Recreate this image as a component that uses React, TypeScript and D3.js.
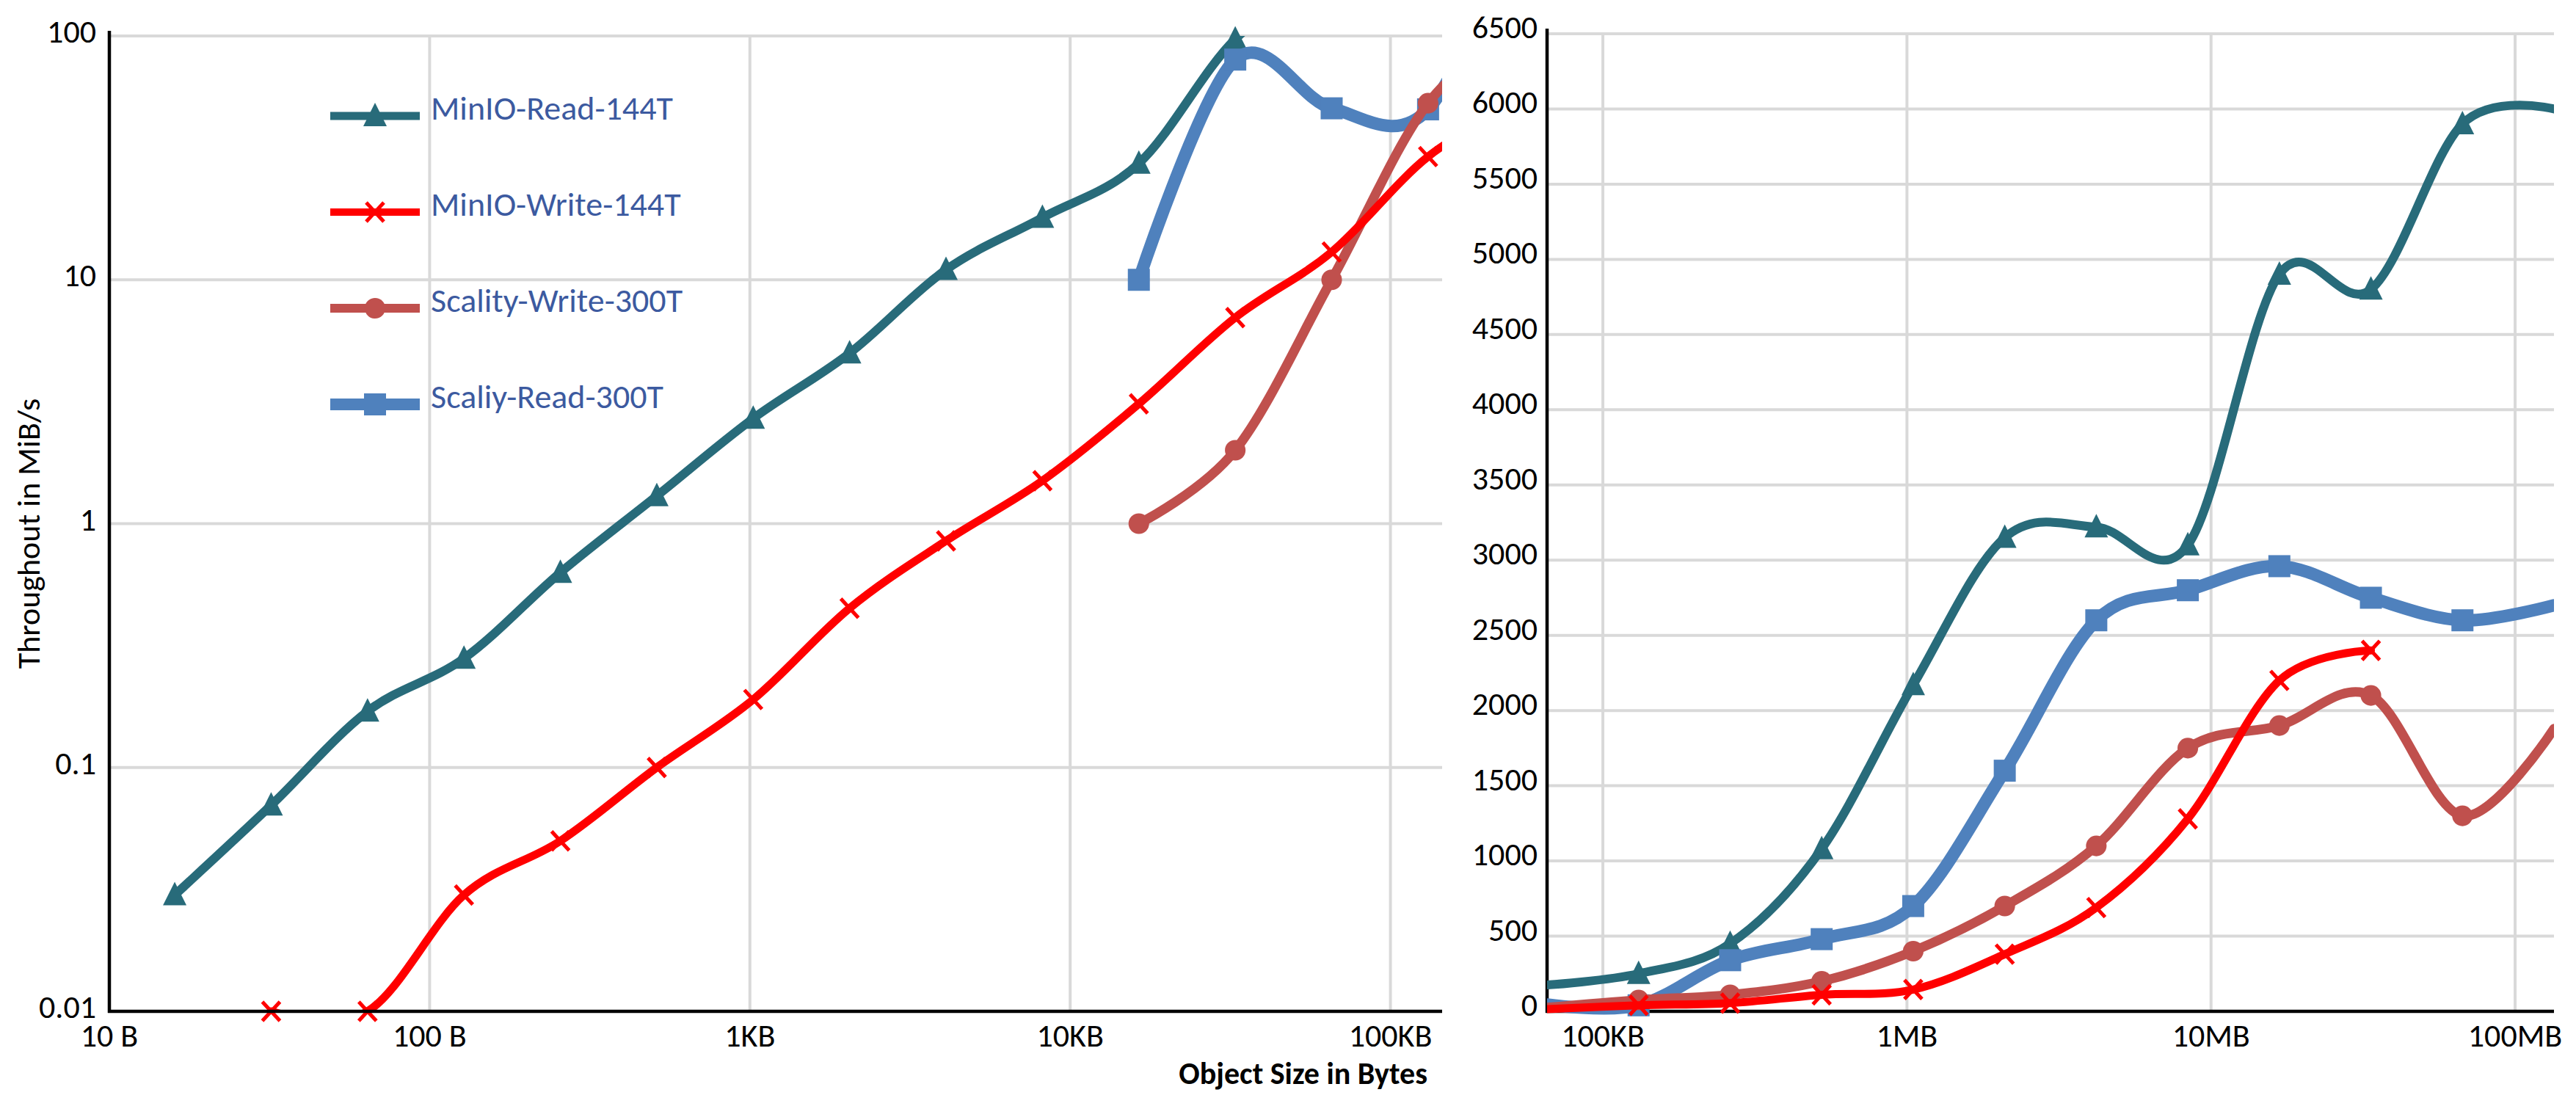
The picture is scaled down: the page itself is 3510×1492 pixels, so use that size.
import { useEffect, useRef } from 'react'
import { select, scaleLog, scaleLinear, line, curveCardinal, symbol, symbolCircle, symbolSquare, range } from 'd3'

// object sizes in bytes
const smallSizes = [16, 32, 64, 128, 256, 512, 1024, 2048, 4096, 8192, 16384, 32768, 65536, 131072, 262144]
const largeSizes = [65536, 131072, 262144, 524288, 1048576, 2097152, 4194304, 8388608, 16777216, 33554432, 67108864, 134217728]

const seriesNames = ['MinIO-Read-144T', 'MinIO-Write-144T', 'Scality-Write-300T', 'Scaliy-Read-300T']

// throughput in MiB/s, small objects (log chart). null = no measurement
const minioReadSmall = [0.03, 0.07, 0.17, 0.28, 0.63, 1.3, 2.7, 5, 11, 18, 30, 97, 175, 250, 450]
const minioWriteSmall = [null, 0.01, 0.01, 0.03, 0.05, 0.1, 0.19, 0.45, 0.85, 1.5, 3.1, 7, 13, 32, 55]
const scalityWriteSmall = [null, null, null, null, null, null, null, null, null, null, 1.0, 2.0, 10, 53, 110]
const scalityReadSmall = [null, null, null, null, null, null, null, null, null, null, 10, 80, 50.5, 50, 340]

// throughput in MiB/s, large objects (linear chart)
const minioReadLarge = [175, 250, 450, 1080, 2170, 3150, 3220, 3100, 4900, 4800, 5900, 6000]
const minioWriteLarge = [15, 40, 55, 110, 145, 380, 690, 1280, 2200, 2400, null, null]
const scalityWriteLarge = [25, 75, 110, 200, 400, 700, 1100, 1750, 1900, 2100, 1300, 1880]
const scalityReadLarge = [45, 40, 340, 480, 700, 1600, 2600, 2800, 2960, 2750, 2600, 2700]

const smallTicks = [10, 100, 1000, 10000, 100000]
const smallTickLabels = ['10 B', '100 B', '1KB', '10KB', '100KB']
const largeTicks = [1e5, 1e6, 1e7, 1e8]
const largeTickLabels = ['100KB', '1MB', '10MB', '100MB']
const logTicks = [0.01, 0.1, 1, 10, 100]
const logTickLabels = ['0.01', '0.1', '1', '10', '100']

const colors = ['#286B7A', '#FF0000', '#C0504D', '#4F81BD']
const widths = [12, 11, 13, 17]
const markers = ['triangle', 'x', 'circle', 'square']
const drawOrder = [0, 3, 2, 1]

const FONT = 'Carlito, Calibri, Lato, sans-serif'
const GRID = '#D9D9D9'

function addMarker(g: any, kind: string, color: string) {
  if (kind === 'x') {
    g.append('path').attr('d', 'M-12,-13L12,13M-12,13L12,-13').attr('stroke', color).attr('stroke-width', 5).attr('fill', 'none')
  } else if (kind === 'triangle') {
    g.append('path').attr('d', 'M0,-18L16,14L-16,14Z').attr('fill', color)
  } else {
    const shape = kind === 'circle' ? symbolCircle : symbolSquare
    const size = kind === 'circle' ? 620 : 900
    g.append('path').attr('d', symbol(shape).size(size)()).attr('fill', color)
  }
}

function drawPanel(svg: any, p: any) {
  const [x0, x1] = p.x.range()
  const [yb, yt] = p.y.range()
  const g = svg.append('g')

  g.selectAll('line.hgrid')
    .data(p.yTicks.filter((t: number) => p.y(t) < yb - 1))
    .join('line')
    .attr('class', 'hgrid')
    .attr('x1', x0).attr('x2', x1)
    .attr('y1', (d: number) => p.y(d)).attr('y2', (d: number) => p.y(d))
    .attr('stroke', GRID).attr('stroke-width', 4)

  g.selectAll('line.vgrid')
    .data(p.xTicks.filter((t: number) => p.x(t) > x0 + 1))
    .join('line')
    .attr('class', 'vgrid')
    .attr('x1', (d: number) => p.x(d)).attr('x2', (d: number) => p.x(d))
    .attr('y1', yt).attr('y2', yb)
    .attr('stroke', GRID).attr('stroke-width', 4)

  const axes = () => {
    g.append('line').attr('x1', x0).attr('x2', x0).attr('y1', yt - 7).attr('y2', yb + 2).attr('stroke', '#000').attr('stroke-width', 4.5)
    g.append('line').attr('x1', x0 - 2).attr('x2', x1).attr('y1', yb).attr('y2', yb).attr('stroke', '#000').attr('stroke-width', 4.5)
  }

  g.append('clipPath').attr('id', p.id)
    .append('rect').attr('x', x0).attr('y', yt).attr('width', x1 - x0).attr('height', p.clipBottom - yt)

  if (p.linesOverAxis) axes()

  const path = line<[number, number]>().curve(curveCardinal.tension(0))
  const [dMin, dMax] = p.x.domain()
  drawOrder.forEach((i) => {
    const pts = p.sizes
      .map((s: number, k: number) => [s, p.values[i][k]])
      .filter((d: any) => d[1] != null)
    g.append('path')
      .attr('clip-path', `url(#${p.id})`)
      .attr('d', path(pts.map((d: any) => [p.x(d[0]), p.y(d[1])])))
      .attr('fill', 'none')
      .attr('stroke', colors[i])
      .attr('stroke-width', widths[i])
      .attr('stroke-linejoin', 'round')
      .attr('stroke-linecap', 'round')
    // markers only where the point lies inside the axis range
    pts
      .filter((d: any) => d[0] > dMin * 1.001 && d[0] < dMax / 1.001)
      .forEach((d: any) => {
        const m = g.append('g').attr('transform', `translate(${p.x(d[0])},${p.y(d[1])})`)
        addMarker(m, markers[i], colors[i])
      })
  })

  if (!p.linesOverAxis) axes()

  g.selectAll('text.ylab')
    .data(p.yTicks)
    .join('text')
    .attr('class', 'ylab')
    .attr('x', p.yLabelX)
    .attr('y', (d: number) => p.y(d) + p.yLabelDy)
    .attr('text-anchor', 'end')
    .attr('font-family', FONT).attr('font-size', 44).attr('fill', '#000')
    .text((_: number, k: number) => p.yTickLabels[k])

  g.selectAll('text.xlab')
    .data(p.xTicks)
    .join('text')
    .attr('class', 'xlab')
    .attr('x', (d: number) => p.x(d))
    .attr('y', 1426)
    .attr('text-anchor', 'middle')
    .attr('font-family', FONT).attr('font-size', 44).attr('fill', '#000')
    .text((_: number, k: number) => p.xTickLabels[k])
}

export default function App() {
  const svgRef = useRef<SVGSVGElement | null>(null)

  useEffect(() => {
    const svg = select(svgRef.current)
    svg.selectAll('*').remove()

    const xSmall = scaleLog().domain([10, 145000]).range([149, 1965])
    const ySmall = scaleLog().domain([0.01, 100]).range([1378, 49])
    const xLarge = scaleLog().domain([65536, 134217728]).range([2108, 3480])
    const yLarge = scaleLinear().domain([0, 6500]).range([1378, 46])
    const linTicks = range(0, 6501, 500)

    drawPanel(svg, {
      id: 'clip-small', x: xSmall, y: ySmall, sizes: smallSizes,
      values: [minioReadSmall, minioWriteSmall, scalityWriteSmall, scalityReadSmall],
      xTicks: smallTicks, xTickLabels: smallTickLabels,
      yTicks: logTicks, yTickLabels: logTickLabels,
      yLabelX: 131, yLabelDy: 9, clipBottom: 1378, linesOverAxis: false,
    })

    drawPanel(svg, {
      id: 'clip-large', x: xLarge, y: yLarge, sizes: largeSizes,
      values: [minioReadLarge, minioWriteLarge, scalityWriteLarge, scalityReadLarge],
      xTicks: largeTicks, xTickLabels: largeTickLabels,
      yTicks: linTicks, yTickLabels: linTicks.map(String),
      yLabelX: 2095, yLabelDy: 6, clipBottom: 1398, linesOverAxis: true,
    })

    // axis titles
    svg.append('text')
      .attr('transform', 'translate(54,727) rotate(-90)')
      .attr('text-anchor', 'middle')
      .attr('font-family', FONT).attr('font-size', 44).attr('fill', '#000')
      .text('Throughout in MiB/s')
    svg.append('text')
      .attr('x', 1945).attr('y', 1477)
      .attr('text-anchor', 'end')
      .attr('font-family', FONT).attr('font-size', 42).attr('font-weight', 'bold').attr('fill', '#000')
      .text('Object Size in Bytes')

    // legend, inside the left chart
    const legend = svg.append('g')
    seriesNames.forEach((name, i) => {
      const ly = 158 + i * 131
      legend.append('line').attr('x1', 450).attr('x2', 572).attr('y1', ly).attr('y2', ly)
        .attr('stroke', colors[i]).attr('stroke-width', widths[i] - 1)
      addMarker(legend.append('g').attr('transform', `translate(511,${ly})`), markers[i], colors[i])
      legend.append('text').attr('x', 587).attr('y', ly + 5)
        .attr('font-family', FONT).attr('font-size', 46).attr('fill', '#3C5AA0')
        .text(name)
    })
  }, [])

  return (
    <div id="chart">
      <svg ref={svgRef} width={3510} height={1492} style={{ position: 'absolute', left: 0, top: 0, background: '#fff' }} />
    </div>
  )
}
